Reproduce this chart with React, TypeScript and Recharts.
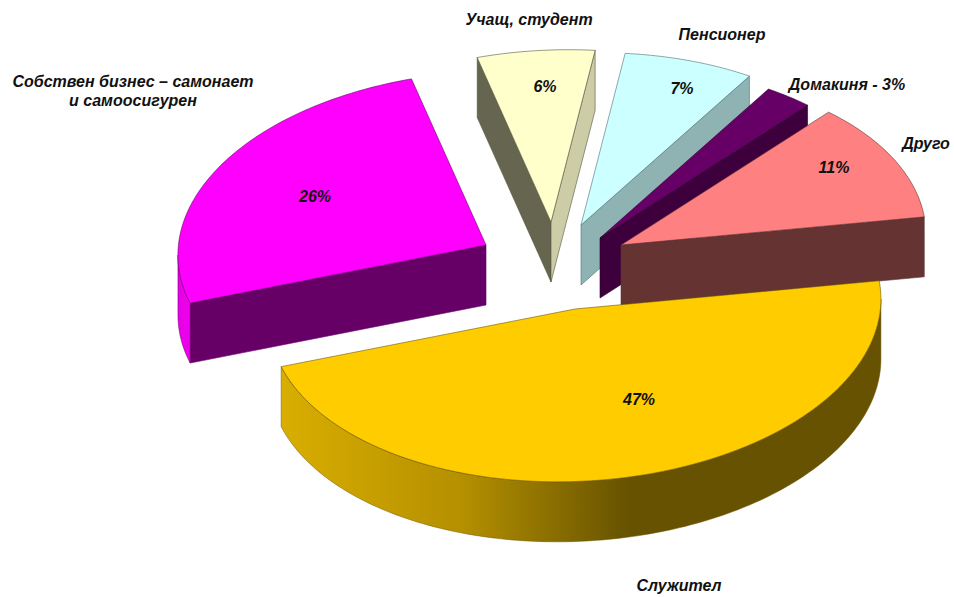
import React from "react";
import { PieChart, Pie } from "recharts";

const names = [
  "Учащ, студент",
  "Пенсионер",
  "Домакиня - 3%",
  "Друго",
  "Служител",
  "Собствен бизнес – самонает\nи самоосигурен",
];
const values = [6.2, 7, 2.6, 11.4, 47.2, 25.6];

// Drawing constants (kept apart from the values)
const W = 954;
const H = 597;
const CX = 560;
const CY = 270;
const RX = 305;
const TILT = 172 / 305; // ellipse squash
const SKEW = 10 / 305; // slight rotation of the ellipse
const DEPTH = 60;
const FONT = "'Liberation Sans', Arial, sans-serif";

type Look = {
  dx: number;
  dy: number;
  grow: number;
  top: string;
  edge: string;
  wallHigh: string;
  wallLow: string;
  rim: string;
  pct: [number, number] | null;
  name: [number, number];
};

const looks: Look[] = [
  { dx: -9, dy: -48, grow: 1, top: "#ffffcc", edge: "#55553f", wallHigh: "#666650", wallLow: "#cccca6", rim: "#cccca6", pct: [545, 86], name: [529, 19] },
  { dx: 21, dy: -45, grow: 1, top: "#ccffff", edge: "#4f6f6f", wallHigh: "#8fb3b3", wallLow: "#8fb3b3", rim: "#8fb3b3", pct: [682, 88], name: [722, 34] },
  { dx: 40, dy: -32, grow: 1, top: "#660066", edge: "#2c002c", wallHigh: "#3d003d", wallLow: "#3d003d", rim: "#3d003d", pct: null, name: [847, 84] },
  { dx: 61, dy: -25, grow: 1, top: "#ff8080", edge: "#5c3030", wallHigh: "#663333", wallLow: "#663333", rim: "#663333", pct: [834, 167], name: [926, 143] },
  { dx: 15, dy: 39, grow: 1.003, top: "#ffcc00", edge: "#6b5500", wallHigh: "#665200", wallLow: "#665200", rim: "url(#rimGold)", pct: [639, 399], name: [679, 585] },
  { dx: -74, dy: -25, grow: 1.01, top: "#ff00ff", edge: "#660066", wallHigh: "#660066", wallLow: "#660066", rim: "url(#rimPink)", pct: [315, 196], name: [133, 81] },
];

const rows = names.map((name, i) => ({ name, value: values[i] }));

const RAD = Math.PI / 180;

function makePoint(x0: number, y0: number, r: number) {
  const ry = r * TILT;
  const sk = r * SKEW;
  return (deg: number, drop = 0): [number, number] => {
    const c = Math.cos(deg * RAD);
    const s = Math.sin(deg * RAD);
    return [x0 + r * c, y0 - ry * s - sk * c + drop];
  };
}

function arcPoints(pt: (d: number, drop?: number) => [number, number], from: number, to: number, drop = 0) {
  const out: [number, number][] = [];
  const n = Math.max(2, Math.ceil(Math.abs(to - from)));
  for (let i = 0; i <= n; i++) out.push(pt(from + ((to - from) * i) / n, drop));
  return out;
}

const toPath = (pts: [number, number][], close = true) =>
  pts.map((p, i) => `${i ? "L" : "M"}${p[0].toFixed(2)} ${p[1].toFixed(2)}`).join("") + (close ? "Z" : "");

function Slice3D(props: any) {
  const { cx, cy, outerRadius, startAngle, endAngle, index } = props;
  const look = looks[index];
  const x0 = cx + look.dx;
  const y0 = cy + look.dy;
  const pt = makePoint(x0, y0, outerRadius * look.grow);
  const hi = Math.max(startAngle, endAngle);
  const lo = Math.min(startAngle, endAngle);
  const apex: [number, number] = [x0, y0];
  const apexLow: [number, number] = [x0, y0 + DEPTH];

  const walls: React.ReactNode[] = [];
  const wall = (deg: number, fill: string, key: string) => {
    const quad = [apex, pt(deg), pt(deg, DEPTH), apexLow] as [number, number][];
    walls.push(<path key={key} d={toPath(quad)} fill={fill} stroke={look.edge} strokeWidth={0.6} strokeLinejoin="round" />);
  };
  if (Math.cos(hi * RAD) < 0) wall(hi, look.wallHigh, "hi");
  if (Math.cos(lo * RAD) > 0) wall(lo, look.wallLow, "lo");

  // the outer rim shows only on the near half of the ellipse
  let rim: React.ReactNode = null;
  const k = Math.floor(hi / 360);
  const segs: [number, number][] = [];
  for (let m = k + 1; m >= k - 1; m--) {
    const nearHi = 360 * m;
    const nearLo = 360 * m - 180;
    const s = Math.min(hi, nearHi);
    const e = Math.max(lo, nearLo);
    if (s > e) segs.push([s, e]);
  }
  if (segs.length) {
    rim = segs.map(([s, e], i) => {
      const upper = arcPoints(pt, s, e);
      const lower = arcPoints(pt, e, s, DEPTH);
      return <path key={i} d={toPath([...upper, ...lower])} fill={look.rim} stroke={look.edge} strokeWidth={0.5} strokeLinejoin="round" />;
    });
  }

  const topFace = toPath([apex, ...arcPoints(pt, hi, lo)]);
  return (
    <g>
      {walls}
      {rim}
      <path d={topFace} fill={look.top} stroke={look.edge} strokeWidth={0.6} strokeLinejoin="round" />
    </g>
  );
}

function SliceLabel(props: any) {
  const { index, name, value } = props;
  const look = looks[index];
  const style = { fontFamily: FONT, fontWeight: 700, fontStyle: "italic", fill: "#111111" } as const;
  const lines = String(name).split("\n");
  return (
    <g>
      <text x={look.name[0]} y={look.name[1]} textAnchor="middle" dominantBaseline="central" fontSize={16} style={style}>
        {lines.map((line, i) => (
          <tspan key={i} x={look.name[0]} dy={i ? 19 : 0}>
            {line}
          </tspan>
        ))}
      </text>
      {look.pct && (
        <text x={look.pct[0]} y={look.pct[1]} textAnchor="middle" dominantBaseline="central" fontSize={16} style={style}>
          {`${Math.round(value)}%`}
        </text>
      )}
    </g>
  );
}

export default function App() {
  return (
    <div style={{ position: "absolute", left: 0, top: 0, width: W, height: H, background: "#fff" }}>
      <PieChart width={W} height={H} margin={{ top: 0, right: 0, bottom: 0, left: 0 }}>
        <defs>
          <linearGradient id="rimGold" x1="0" y1="0" x2="1" y2="0">
            <stop offset="0" stopColor="#d9ae00" />
            <stop offset="0.3" stopColor="#b59000" />
            <stop offset="0.58" stopColor="#665200" />
            <stop offset="1" stopColor="#665200" />
          </linearGradient>
          <linearGradient id="rimPink" x1="0" y1="0" x2="1" y2="0">
            <stop offset="0" stopColor="#e600e6" />
            <stop offset="1" stopColor="#f000f0" />
          </linearGradient>
        </defs>
        <Pie
          data={rows}
          dataKey="value"
          nameKey="name"
          cx={CX}
          cy={CY}
          innerRadius={0}
          outerRadius={RX}
          startAngle={104}
          endAngle={-256}
          stroke="none"
          isAnimationActive={false}
          shape={Slice3D}
          label={SliceLabel}
          labelLine={false}
        />
      </PieChart>
    </div>
  );
}
